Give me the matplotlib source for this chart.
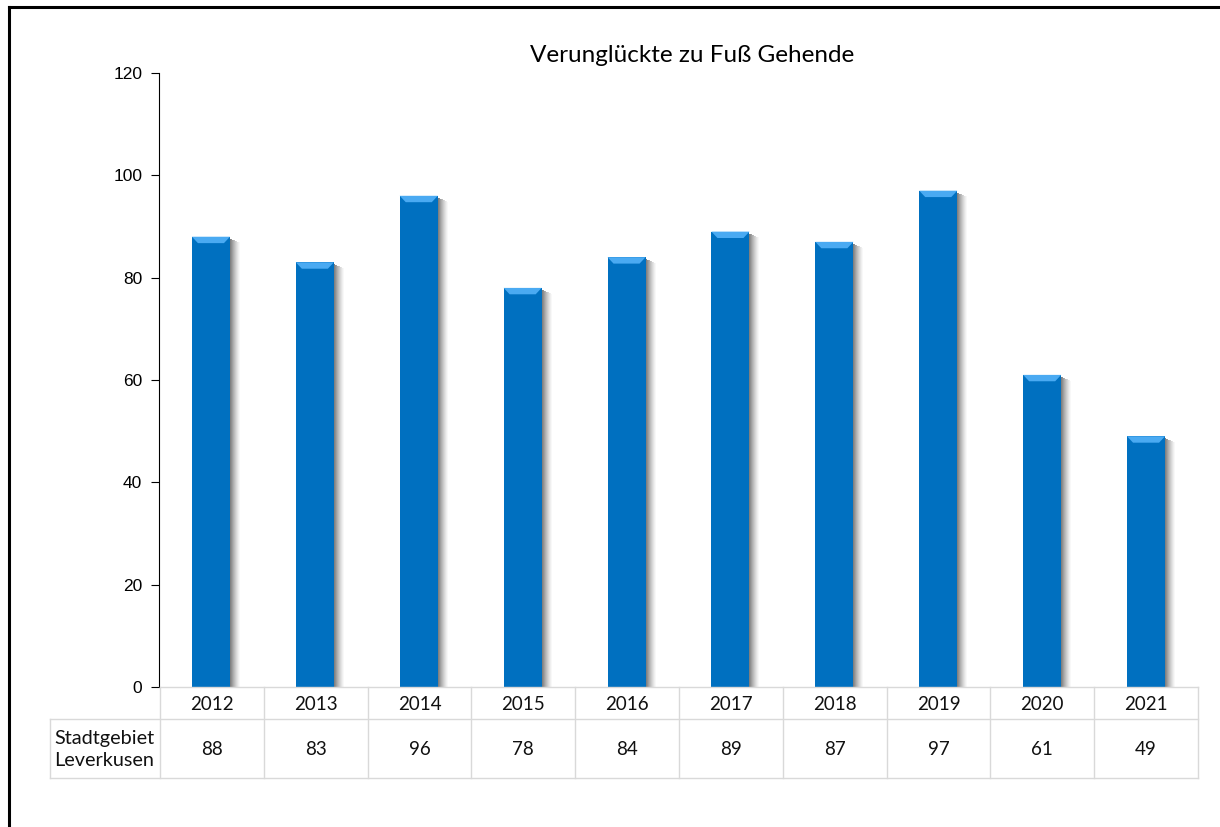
import matplotlib.pyplot as plt
from matplotlib.patches import Polygon, Rectangle
from matplotlib.lines import Line2D

years = ["2012", "2013", "2014", "2015", "2016", "2017", "2018", "2019", "2020", "2021"]
values = [88, 83, 96, 78, 84, 89, 87, 97, 61, 49]
row_label = "Stadtgebiet\nLeverkusen"
title = "Verunglückte zu Fuß Gehende"

W, H = 1220, 827
bar_color = "#0070C0"
bevel_color = "#4AAAF2"
grid_color = "#D9D9D9"
text_font = "Lato"
tick_font = "Liberation Sans"

fig = plt.figure(figsize=(W / 100, H / 100), dpi=100)
ax_left, ax_right, ax_top, ax_bottom = 159, 1198, 73, 687
ax = fig.add_axes([ax_left / W, 1 - ax_bottom / H, (ax_right - ax_left) / W, (ax_bottom - ax_top) / H])

x = list(range(len(years)))
bw = 0.366
ax.bar(x, values, width=bw, color=bar_color, zorder=3)

# soft shadow on the right of each bar
px = 1 / (ax_right - ax_left) * len(years)  # one pixel in data x
for xi, v in zip(x, values):
    right = xi + bw / 2
    for k in range(10):
        ax.add_patch(Rectangle((right + k * px, 0), px, v - 0.4 - k * 0.08,
                               color="#555555", alpha=0.75 * (1 - k / 10) ** 1.3,
                               lw=0, zorder=2))
    # bevel on top
    bev_h = 1.25
    ins = 6 * px
    left = xi - bw / 2
    ax.add_patch(Polygon([(left, v), (right, v), (right - ins, v - bev_h), (left + ins, v - bev_h)],
                         closed=True, color=bevel_color, lw=0, zorder=4))

ax.set_xlim(-0.5, len(years) - 0.5)
ax.set_ylim(0, 120)
ax.set_yticks(range(0, 121, 20))
ax.set_xticks([])
for s in ["top", "right", "bottom"]:
    ax.spines[s].set_visible(False)
ax.spines["left"].set_color("black")
ax.spines["left"].set_linewidth(0.8)
ax.tick_params(axis="y", length=6, width=0.8, labelsize=12.5, pad=6)
for lab in ax.get_yticklabels():
    lab.set_fontfamily(tick_font)

# table below the plot
def fx(p):
    return p / W

def fy(p):
    return 1 - p / H

row1_top, row2_top, row2_bot = 687, 719, 778
label_left = 50
cat_w = (ax_right - 160) / len(years)
edges = [160 + i * cat_w for i in range(len(years) + 1)]

lines = [
    ((160, ax_right), (row1_top, row1_top)),
    ((label_left, ax_right), (row2_top, row2_top)),
    ((label_left, ax_right), (row2_bot, row2_bot)),
    ((label_left, label_left), (row2_top, row2_bot)),
]
for e in edges:
    lines.append(((e, e), (row1_top, row2_bot)))
for (xs, ys) in lines:
    fig.add_artist(Line2D([fx(xs[0]), fx(xs[1])], [fy(ys[0]), fy(ys[1])],
                          color=grid_color, lw=1.0, zorder=1))

for i, (yr, v) in enumerate(zip(years, values)):
    cx = fx((edges[i] + edges[i + 1]) / 2)
    fig.text(cx, fy((row1_top + row2_top) / 2 + 1), yr, ha="center", va="center",
             fontsize=13.5, family=text_font, color="#111111")
    fig.text(cx, fy((row2_top + row2_bot) / 2 + 1), str(v), ha="center", va="center",
             fontsize=13.5, family=text_font, color="#111111")
fig.text(fx((label_left + 160) / 2 - 1), fy((row2_top + row2_bot) / 2 + 1), row_label,
         ha="center", va="center", fontsize=14.3, family=text_font, color="#111111",
         linespacing=1.35)

fig.text(fx(692), fy(56), title, ha="center", va="center", fontsize=17.5,
         family=text_font, color="black")

# frame lines of the outer box (left and top only)
fig.add_artist(Line2D([fx(9), fx(9)], [fy(7), 0], color="black", lw=2.2))
fig.add_artist(Line2D([fx(9), 1], [fy(7), fy(7)], color="black", lw=2.2))

fig.savefig("out.png", dpi=100)
